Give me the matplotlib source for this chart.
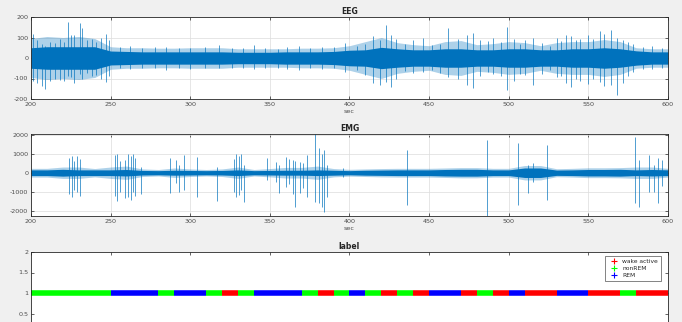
import matplotlib
matplotlib.use('Agg')
import matplotlib.pyplot as plt
from matplotlib.lines import Line2D

# ---------------- data ----------------
env_t = list(range(200, 601, 10))
eeg_core = [50, 55, 55, 55, 55, 34, 32, 30, 30, 30, 30, 30, 30, 28, 28, 28, 30, 30, 30, 32, 38,
            40, 52, 45, 40, 40, 45, 45, 40, 40, 45, 45, 40, 40, 45, 45, 50, 45, 35, 30, 30]
eeg_fuzz = [95, 105, 100, 105, 95, 55, 50, 50, 48, 48, 50, 50, 50, 45, 45, 45, 45, 48, 48, 50, 60,
            80, 100, 75, 65, 60, 80, 85, 65, 70, 80, 75, 60, 75, 80, 80, 90, 80, 50, 45, 45]
eeg_spike_t = [201, 204, 207, 209, 212, 215, 218, 221, 223, 225, 227, 230.5, 232, 235, 238, 241, 244,
               247, 249, 256, 262, 270, 278, 285, 293, 300, 309, 318, 326, 333, 340, 347, 355, 361,
               368, 375, 383, 390, 397, 405, 410, 415, 419, 423, 426, 429, 435, 440, 446, 452, 457,
               462, 468, 474, 477.5, 482, 487, 490, 495, 499, 503, 507, 510, 515, 521, 526, 530, 533,
               536, 539, 542, 545, 550, 553, 557, 560, 564, 568, 572, 575, 578, 584, 590, 596]
eeg_spike_hi = [118, 90, 70, 60, 80, 75, 95, 80, 178, 110, 114, 170, 146, 90, 95, 80, 100,
                117, 90, 55, 60, 50, 52, 55, 50, 48, 55, 65, 50, 48, 62, 50, 45, 55,
                60, 50, 52, 55, 75, 60, 70, 105, 90, 160, 110, 95, 70, 90, 100, 65, 70,
                146, 95, 110, 122, 90, 85, 100, 80, 150, 95, 70, 90, 100, 75, 60, 100, 85,
                110, 105, 90, 95, 110, 95, 130, 115, 135, 100, 90, 80, 70, 55, 60, 50]
eeg_spike_lo = [-110, -120, -135, -150, -110, -100, -105, -110, -90, -95, -120, -80, -100, -75, -90, -85, -100,
                -116, -90, -50, -55, -48, -50, -60, -48, -52, -50, -50, -48, -50, -55, -48, -50, -52,
                -60, -48, -55, -50, -70, -60, -85, -120, -130, -115, -140, -100, -65, -75, -70, -60, -75,
                -95, -100, -130, -148, -90, -70, -80, -90, -156, -110, -80, -85, -132, -80, -60, -95, -90,
                -120, -140, -100, -110, -125, -100, -115, -135, -130, -180, -120, -90, -70, -55, -55, -50]

emg_core = [150, 150, 180, 150, 150, 150, 170, 120, 110, 130, 120, 110, 120, 150, 110, 120, 130, 130,
            150, 130, 110, 130, 140, 150, 150, 150, 170, 180, 180, 150, 150, 250, 250, 140, 150, 170,
            170, 180, 150, 170, 150]
emg_fuzz = [230, 230, 300, 300, 220, 300, 350, 200, 170, 250, 200, 170, 200, 300, 170, 220, 280, 280,
            350, 220, 180, 200, 220, 230, 230, 230, 250, 270, 270, 230, 230, 380, 380, 210, 230, 260,
            260, 270, 300, 300, 230]
emg_spike_t = [224, 225.5, 227, 229, 230.5, 252.5, 254, 256, 259, 261, 262.5, 264, 265.5, 269, 287, 291,
               293, 296, 304.5, 317, 327.5, 329, 330.5, 332, 334, 348, 354, 356, 360, 362, 364.5, 366,
               369, 371, 373, 378.5, 380.6, 382.5, 384, 385.6, 396, 436, 486.5, 506, 512, 515, 524,
               579, 581.7, 588, 591, 594, 596]
emg_spike_hi = [800, 900, 600, 900, 700, 950, 1000, 600, 670, 1000, 900, 1000, 800, 300, 750, 660,
                400, 930, 840, 300, 700, 1000, 900, 1000, 400, 750, 580, 400, 840, 700, 660, 600,
                580, 500, 930, 2040, 1280, 1000, 1190, 400, 230, 1190, 1720, 1540, 400, 500, 1460,
                1900, 660, 930, 400, 750, 660]
emg_spike_lo = [-1100, -1260, -900, -1000, -1200, -1200, -1470, -1000, -1350, -1300, -1440, -1000, -1200,
                -1120, -1090, -560, -1000, -910, -1260, -1470, -1000, -1260, -1170, -900, -1530, -400,
                -470, -1090, -740, -600, -1100, -1790, -1090, -800, -1260, -1530, -1600, -1790, -2050,
                -1300, -200, -1700, -2280, -1700, -1090, -500, -1440, -1610, -1790, -1000, -1000,
                -1610, -700]

epoch_start = list(range(200, 600, 10))
# 0 = wake active, 1 = nonREM, 2 = REM
epoch_state = [1, 1, 1, 1, 1, 2, 2, 2, 1, 2, 2, 1, 0, 1, 2, 2, 2, 1, 0, 1,
               2, 1, 0, 1, 0, 2, 2, 0, 1, 0, 2, 0, 0, 2, 2, 0, 0, 1, 0, 0]
state_names = ['wake active', 'nonREM', 'REM']
state_colors = ['#ff0000', '#00ff00', '#0000ff']

x_ticks = list(range(200, 601, 50))
eeg_yticks = [-200, -100, 0, 100, 200]
emg_yticks = [-2000, -1000, 0, 1000, 2000]
lab_yticks = [0.5, 1, 1.5, 2]
lab_yticklabels = ['0.5', '1', '1.5', '2']

# ---------------- style ----------------
plt.rcParams['font.family'] = ['DejaVu Sans']
plt.rcParams['axes.unicode_minus'] = False
SIG = '#0072BD'
TXT = '#4d4d4d'
FS = 4.6

fig = plt.figure(figsize=(6.82, 3.22), dpi=100, facecolor='#f0f0f0')
L, W, H = 31 / 682, 637 / 682, 82 / 322
ax1 = fig.add_axes([L, (322 - 99) / 322, W, H])
ax2 = fig.add_axes([L, (322 - 216) / 322, W, H])
ax3 = fig.add_axes([L, (322 - 334) / 322, W, H])


def style(ax, grid=True):
    ax.set_facecolor('white')
    for s in ax.spines.values():
        s.set_color('#262626')
        s.set_linewidth(0.6)
    ax.tick_params(direction='in', length=2.5, width=0.5, colors='#262626', labelsize=FS,
                   labelcolor=TXT, top=True, right=True, pad=2)
    if grid:
        ax.grid(True, color='#dcdcdc', linewidth=0.5)
        ax.set_axisbelow(True)


def draw_signal(ax, core, fuzz, st, hi, lo):
    ax.fill_between(env_t, [-f for f in fuzz], fuzz, color=SIG, alpha=0.32, linewidth=0)
    ax.fill_between(env_t, [-c for c in core], core, color=SIG, alpha=1.0, linewidth=0)
    ax.vlines(st, lo, hi, color=SIG, linewidth=0.6, alpha=0.8)


style(ax1)
draw_signal(ax1, eeg_core, eeg_fuzz, eeg_spike_t, eeg_spike_hi, eeg_spike_lo)
ax1.set_xlim(200, 600)
ax1.set_ylim(-200, 200)
ax1.set_xticks(x_ticks)
ax1.set_yticks(eeg_yticks)
ax1.set_title('EEG', fontsize=5.5, fontweight='bold', color='#262626', pad=2)
ax1.set_xlabel('sec', fontsize=FS, color=TXT, labelpad=1.5)

style(ax2)
draw_signal(ax2, emg_core, emg_fuzz, emg_spike_t, emg_spike_hi, emg_spike_lo)
ax2.set_xlim(200, 600)
ax2.set_ylim(-2280, 2040)
ax2.set_xticks(x_ticks)
ax2.set_yticks(emg_yticks)
ax2.set_title('EMG', fontsize=5.5, fontweight='bold', color='#262626', pad=2)
ax2.set_xlabel('sec', fontsize=FS, color=TXT, labelpad=1.5)

style(ax3, grid=False)
ax3.tick_params(labelbottom=False)
# merge consecutive epochs of the same state
i = 0
while i < len(epoch_start):
    j = i
    while j + 1 < len(epoch_start) and epoch_state[j + 1] == epoch_state[i]:
        j += 1
    ax3.plot([epoch_start[i], epoch_start[j] + 10], [1, 1], color=state_colors[epoch_state[i]],
             linewidth=4.0, solid_capstyle='butt')
    i = j + 1
ax3.set_xlim(200, 600)
ax3.set_ylim(0, 2)
ax3.set_xticks(x_ticks)
ax3.set_yticks(lab_yticks)
ax3.set_yticklabels(lab_yticklabels)
ax3.set_title('label', fontsize=5.5, fontweight='bold', color='#262626', pad=2)
handles = [Line2D([], [], marker='+', linestyle='none', color=c, markersize=4, markeredgewidth=0.8)
           for c in state_colors]
leg = ax3.legend(handles, state_names, loc='upper right', bbox_to_anchor=(0.989, 0.955),
                 fontsize=4.3, frameon=True, fancybox=False, edgecolor='#262626',
                 handlelength=2.0, handletextpad=0.4, borderpad=0.5, labelspacing=0.35,
                 borderaxespad=0)
leg.get_frame().set_linewidth(0.5)
for t in leg.get_texts():
    t.set_color('#262626')

fig.savefig('out.png', dpi=100, facecolor=fig.get_facecolor())
